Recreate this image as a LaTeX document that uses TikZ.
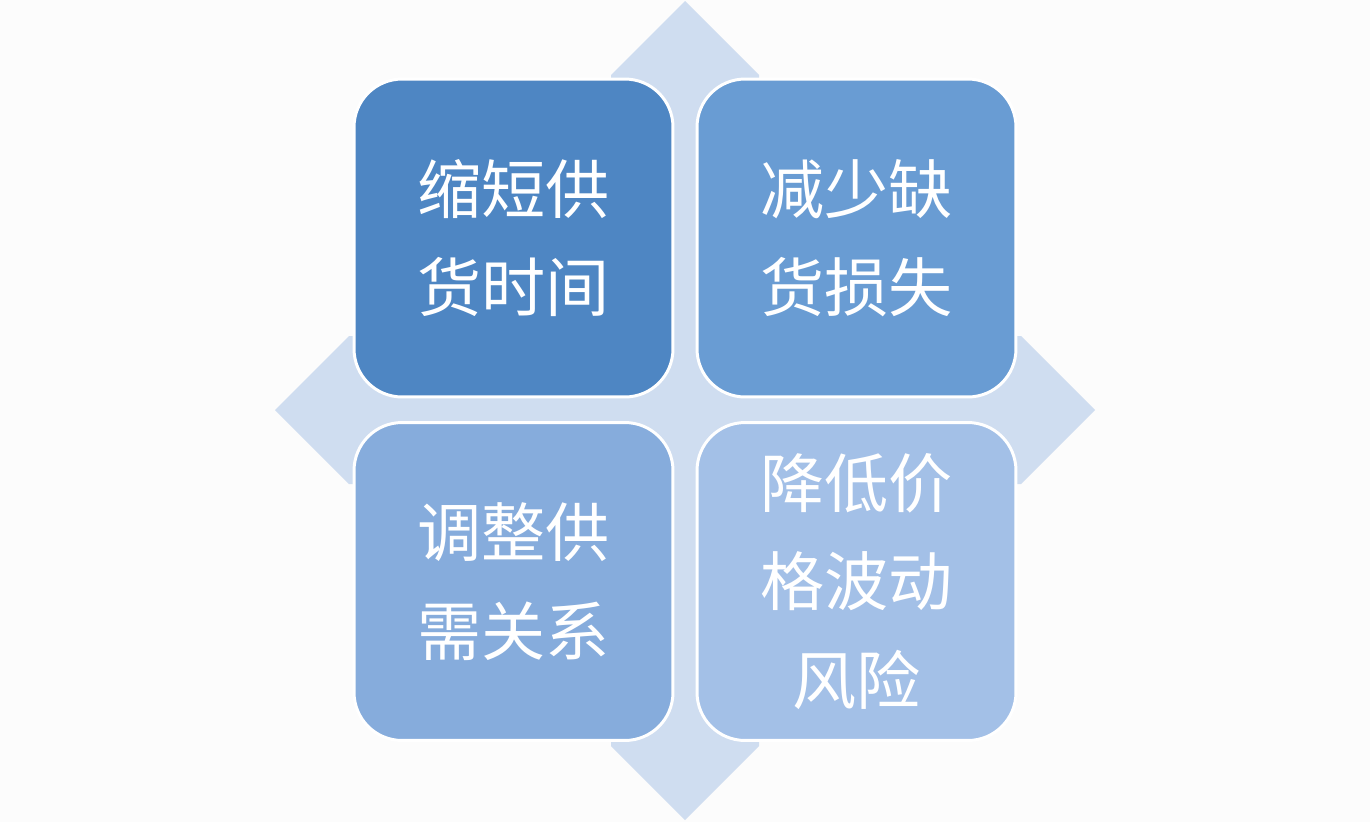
\documentclass[tikz,border=0pt]{standalone}
\usepackage{fontspec}
\usepackage{xcolor}
\newfontfamily\cjk{Noto Sans CJK SC}
\definecolor{crossblue}{RGB}{207,221,240}
\definecolor{tileA}{RGB}{78,134,195}
\definecolor{tileB}{RGB}{105,156,211}
\definecolor{tileC}{RGB}{134,172,220}
\definecolor{tileD}{RGB}{163,192,231}

\begin{document}
\begin{tikzpicture}[x=0.02cm,y=-0.02cm,
    tile/.style={draw=white, line width=1.7pt, rounded corners=0.96cm,
      minimum width=6.38cm, minimum height=6.36cm, align=center,
      text=white, font=\cjk\fontsize{36.5}{56}\selectfont}]
                \useasboundingbox[fill=white!99!black] (0,0) rectangle (1370,822);
                % four-way arrow behind the tiles
                \fill[crossblue] (685,1) -- (759,75) -- (759,336) -- (1021,336) -- (1095,410)
                    -- (1021,484) -- (759,484) -- (759,746) -- (685,820) -- (611,746)
                    -- (611,484) -- (349,484) -- (275,410) -- (349,336) -- (611,336)
                    -- (611,75) -- cycle;
                \node[tile, fill=tileA] (shorten) at (513.5,238) {缩短供\\货时间};
                \node[tile, fill=tileB] (shortage) at (856.5,238) {减少缺\\货损失};
                \node[tile, fill=tileC] (balance) at (513.5,581.5) {调整供\\需关系};
                \node[tile, fill=tileD] (price) at (856.5,581.5) {降低价\\格波动\\风险};
            \end{tikzpicture}
\end{document}
